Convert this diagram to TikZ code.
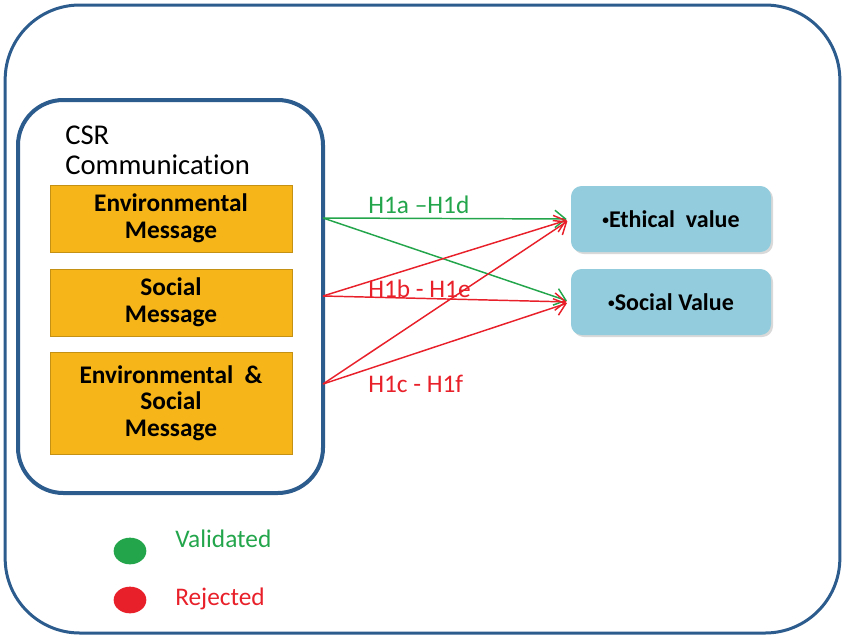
\documentclass[tikz,border=0pt]{standalone}
\usepackage{fontspec}
\setmainfont{Carlito}[Ligatures=NoCommon]
\usetikzlibrary{arrows.meta,shapes.geometric,shadows}
\definecolor{frameblue}{HTML}{2C5B8E}
\definecolor{msgorange}{HTML}{F6B519}
\definecolor{valblue}{HTML}{93CDDD}
\definecolor{okgreen}{HTML}{22A54B}
\definecolor{nored}{HTML}{E8202A}
\newcommand{\smallbul}{\raisebox{0.28ex}{\fontsize{10}{10}\selectfont\textbullet}}
\begin{document}
\begin{tikzpicture}[x=0.75pt,y=-0.75pt,
    msg/.style={fill=msgorange, draw=msgorange!80!black, line width=0.4pt,
        minimum width=181.5pt, align=center, font=\fontsize{19}{20}\selectfont\bfseries,
        drop shadow={shadow xshift=1pt, shadow yshift=-1pt, opacity=0.25}},
    val/.style={fill=valblue, rounded corners=8pt, minimum width=150pt, minimum height=49.5pt,
        font=\fontsize{18}{20}\selectfont\bfseries,
        drop shadow={shadow xshift=1.5pt, shadow yshift=-1.5pt, opacity=0.3}},
    hyp/.style={anchor=base west, inner sep=0pt, font=\fontsize{19}{20}\selectfont},
    link/.style={line width=1.1pt, -{Straight Barb[length=8pt,width=13pt]}, shorten >=3pt}]
    \useasboundingbox (0,0) rectangle (845,639);
    % frames
    \node (frame) [draw=frameblue, line width=2.25pt, rounded corners=56pt,
        minimum width=626pt, minimum height=471pt] at (422.5,319) {};
    \node (csr) [draw=frameblue, line width=3pt, rounded corners=34pt, fill=white,
        minimum width=228.75pt, minimum height=294.75pt,
        drop shadow={shadow xshift=1pt, shadow yshift=-1pt, opacity=0.35}] at (170.5,296.5) {};
    \node (csrtitle) [anchor=north west, inner sep=0pt, align=left,
        font=\fontsize{21.5}{22.5}\selectfont] at (65,126) {CSR\\Communication};
    % messages
    \node (env) [msg, minimum height=50.25pt] at (171,218.5) {Environmental\\Message};
    \node (soc) [msg, minimum height=50.25pt] at (171,302.5) {Social\\Message};
    \node (both) [msg, minimum height=76.5pt] at (171,403) {Environmental~~\&\\Social\\Message};
    % values
    \node (ethical) [val] at (671,219) {\smallbul Ethical~~value};
    \node (social) [val] at (671,302) {\smallbul Social Value};
    % links
    \coordinate (envout) at (323,218);
    \coordinate (socout) at (323,296);
    \coordinate (bothout) at (323,384);
    \draw[link, okgreen] (envout) -- (ethical.west);
    \draw[link, okgreen] (envout) -- (social.west);
    \draw[link, nored] (socout) -- (ethical.west);
    \draw[link, nored] (socout) -- (social.west);
    \draw[link, nored] (bothout) -- (ethical.west);
    \draw[link, nored] (bothout) -- (social.west);
    \node (hypa) [hyp, okgreen] at (368,213) {H1a –H1d};
    \node (hypb) [hyp, nored] at (368,297) {H1b - H1e};
    \node (hypc) [hyp, nored] at (368,392) {H1c - H1f};
    % legend
    \node (dotok) [ellipse, fill=okgreen, minimum width=24.5pt, minimum height=20pt, inner sep=0pt] at (130,551) {};
    \node (dotno) [ellipse, fill=nored, minimum width=24.5pt, minimum height=20pt, inner sep=0pt] at (130,600) {};
    \node (okl) [hyp, okgreen] at (175,547) {Validated};
    \node (nol) [hyp, nored] at (175,605) {Rejected};
\end{tikzpicture}
\end{document}
